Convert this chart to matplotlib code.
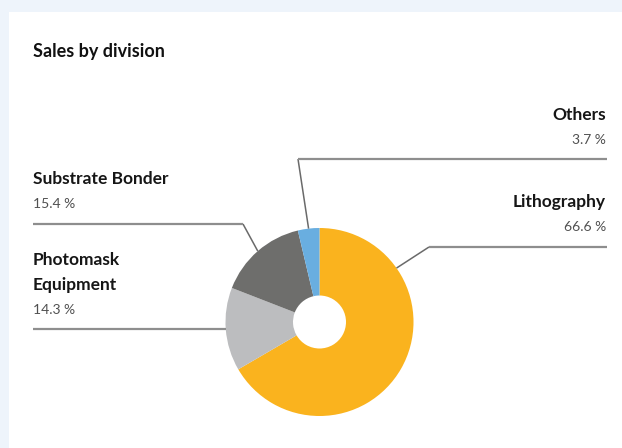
import numpy as np
import matplotlib
matplotlib.use("Agg")
import matplotlib.pyplot as plt

plt.rcParams['font.family'] = ['Lato', 'DejaVu Sans']

# sales share per division, clockwise from 12 o'clock
divisions = ['Lithography', 'Photomask\nEquipment', 'Substrate Bonder', 'Others']
shares = [66.6, 14.3, 15.4, 3.7]
colors = ['#FAB31E', '#BCBDBF', '#6E6E6C', '#69AEE0']

W, H = 622, 448
fig = plt.figure(figsize=(W / 100, H / 100), dpi=100)
fig.patch.set_facecolor('#EEF4FB')
ax = fig.add_axes([0, 0, 1, 1])

# white card
ax.add_patch(plt.Rectangle((9, 12), W, H, facecolor='white', edgecolor='none', zorder=0))

cx, cy, r_out, r_in = 319.5, 322, 94, 26.5
# y axis gets flipped below, so counterclock=True runs clockwise on screen
wedges, _ = ax.pie(shares, colors=colors, startangle=-90, counterclock=True,
                   center=(cx, cy), radius=r_out, frame=True,
                   wedgeprops=dict(width=r_out - r_in, linewidth=0))
ax.set_xlim(0, W)
ax.set_ylim(H, 0)
ax.set_aspect('equal')
ax.axis('off')

ax.text(33, 57, 'Sales by division', fontsize=13, fontweight='bold',
        color='#111111', va='baseline', ha='left')


def anchor(w, ang=None):
    # point on the outer rim of a wedge (screen coords)
    if ang is None:
        ang = (w.theta1 + w.theta2) / 2
    a = np.deg2rad(ang)
    return cx + r_out * np.cos(a), cy + r_out * np.sin(a)


line_c = '#8E8E8E'
diag_c = '#6A6A6A'
lab = dict(fontsize=12.5, fontweight='bold', color='#161616', va='baseline')
pct = dict(fontsize=10, color='#505050', va='baseline')

# Lithography: elbow to the right
px, py = anchor(wedges[0], -35)
ax.plot([px, 429], [py, 247], color=diag_c, lw=1.1, solid_capstyle='butt')
ax.plot([429, 607], [247, 247], color=line_c, lw=1.6, solid_capstyle='butt')
ax.text(606, 207, divisions[0], ha='right', **lab)
ax.text(606, 231, f'{shares[0]:.1f} %', ha='right', **pct)

# Photomask Equipment: straight line to the left
px, py = anchor(wedges[1])
ax.plot([33, px], [329, 329], color=line_c, lw=1.6, solid_capstyle='butt')
for i, part in enumerate(divisions[1].split('\n')):
    ax.text(33, 265 + 25 * i, part, ha='left', **lab)
ax.text(33, 314, f'{shares[1]:.1f} %', ha='left', **pct)

# Substrate Bonder: elbow to the left
px, py = anchor(wedges[2])
ax.plot([px, 243], [py, 224], color=diag_c, lw=1.1, solid_capstyle='butt')
ax.plot([33, 243], [224, 224], color=line_c, lw=1.6, solid_capstyle='butt')
ax.text(33, 184, divisions[2], ha='left', **lab)
ax.text(33, 208, f'{shares[2]:.1f} %', ha='left', **pct)

# Others: up and over to the right
px, py = anchor(wedges[3])
ax.plot([px, 298], [py, 159], color=diag_c, lw=1.1, solid_capstyle='butt')
ax.plot([298, 607], [159, 159], color=line_c, lw=1.6, solid_capstyle='butt')
ax.text(606, 120, divisions[3], ha='right', **lab)
ax.text(606, 144, f'{shares[3]:.1f} %', ha='right', **pct)

fig.savefig('out.png', dpi=100, facecolor=fig.get_facecolor())
